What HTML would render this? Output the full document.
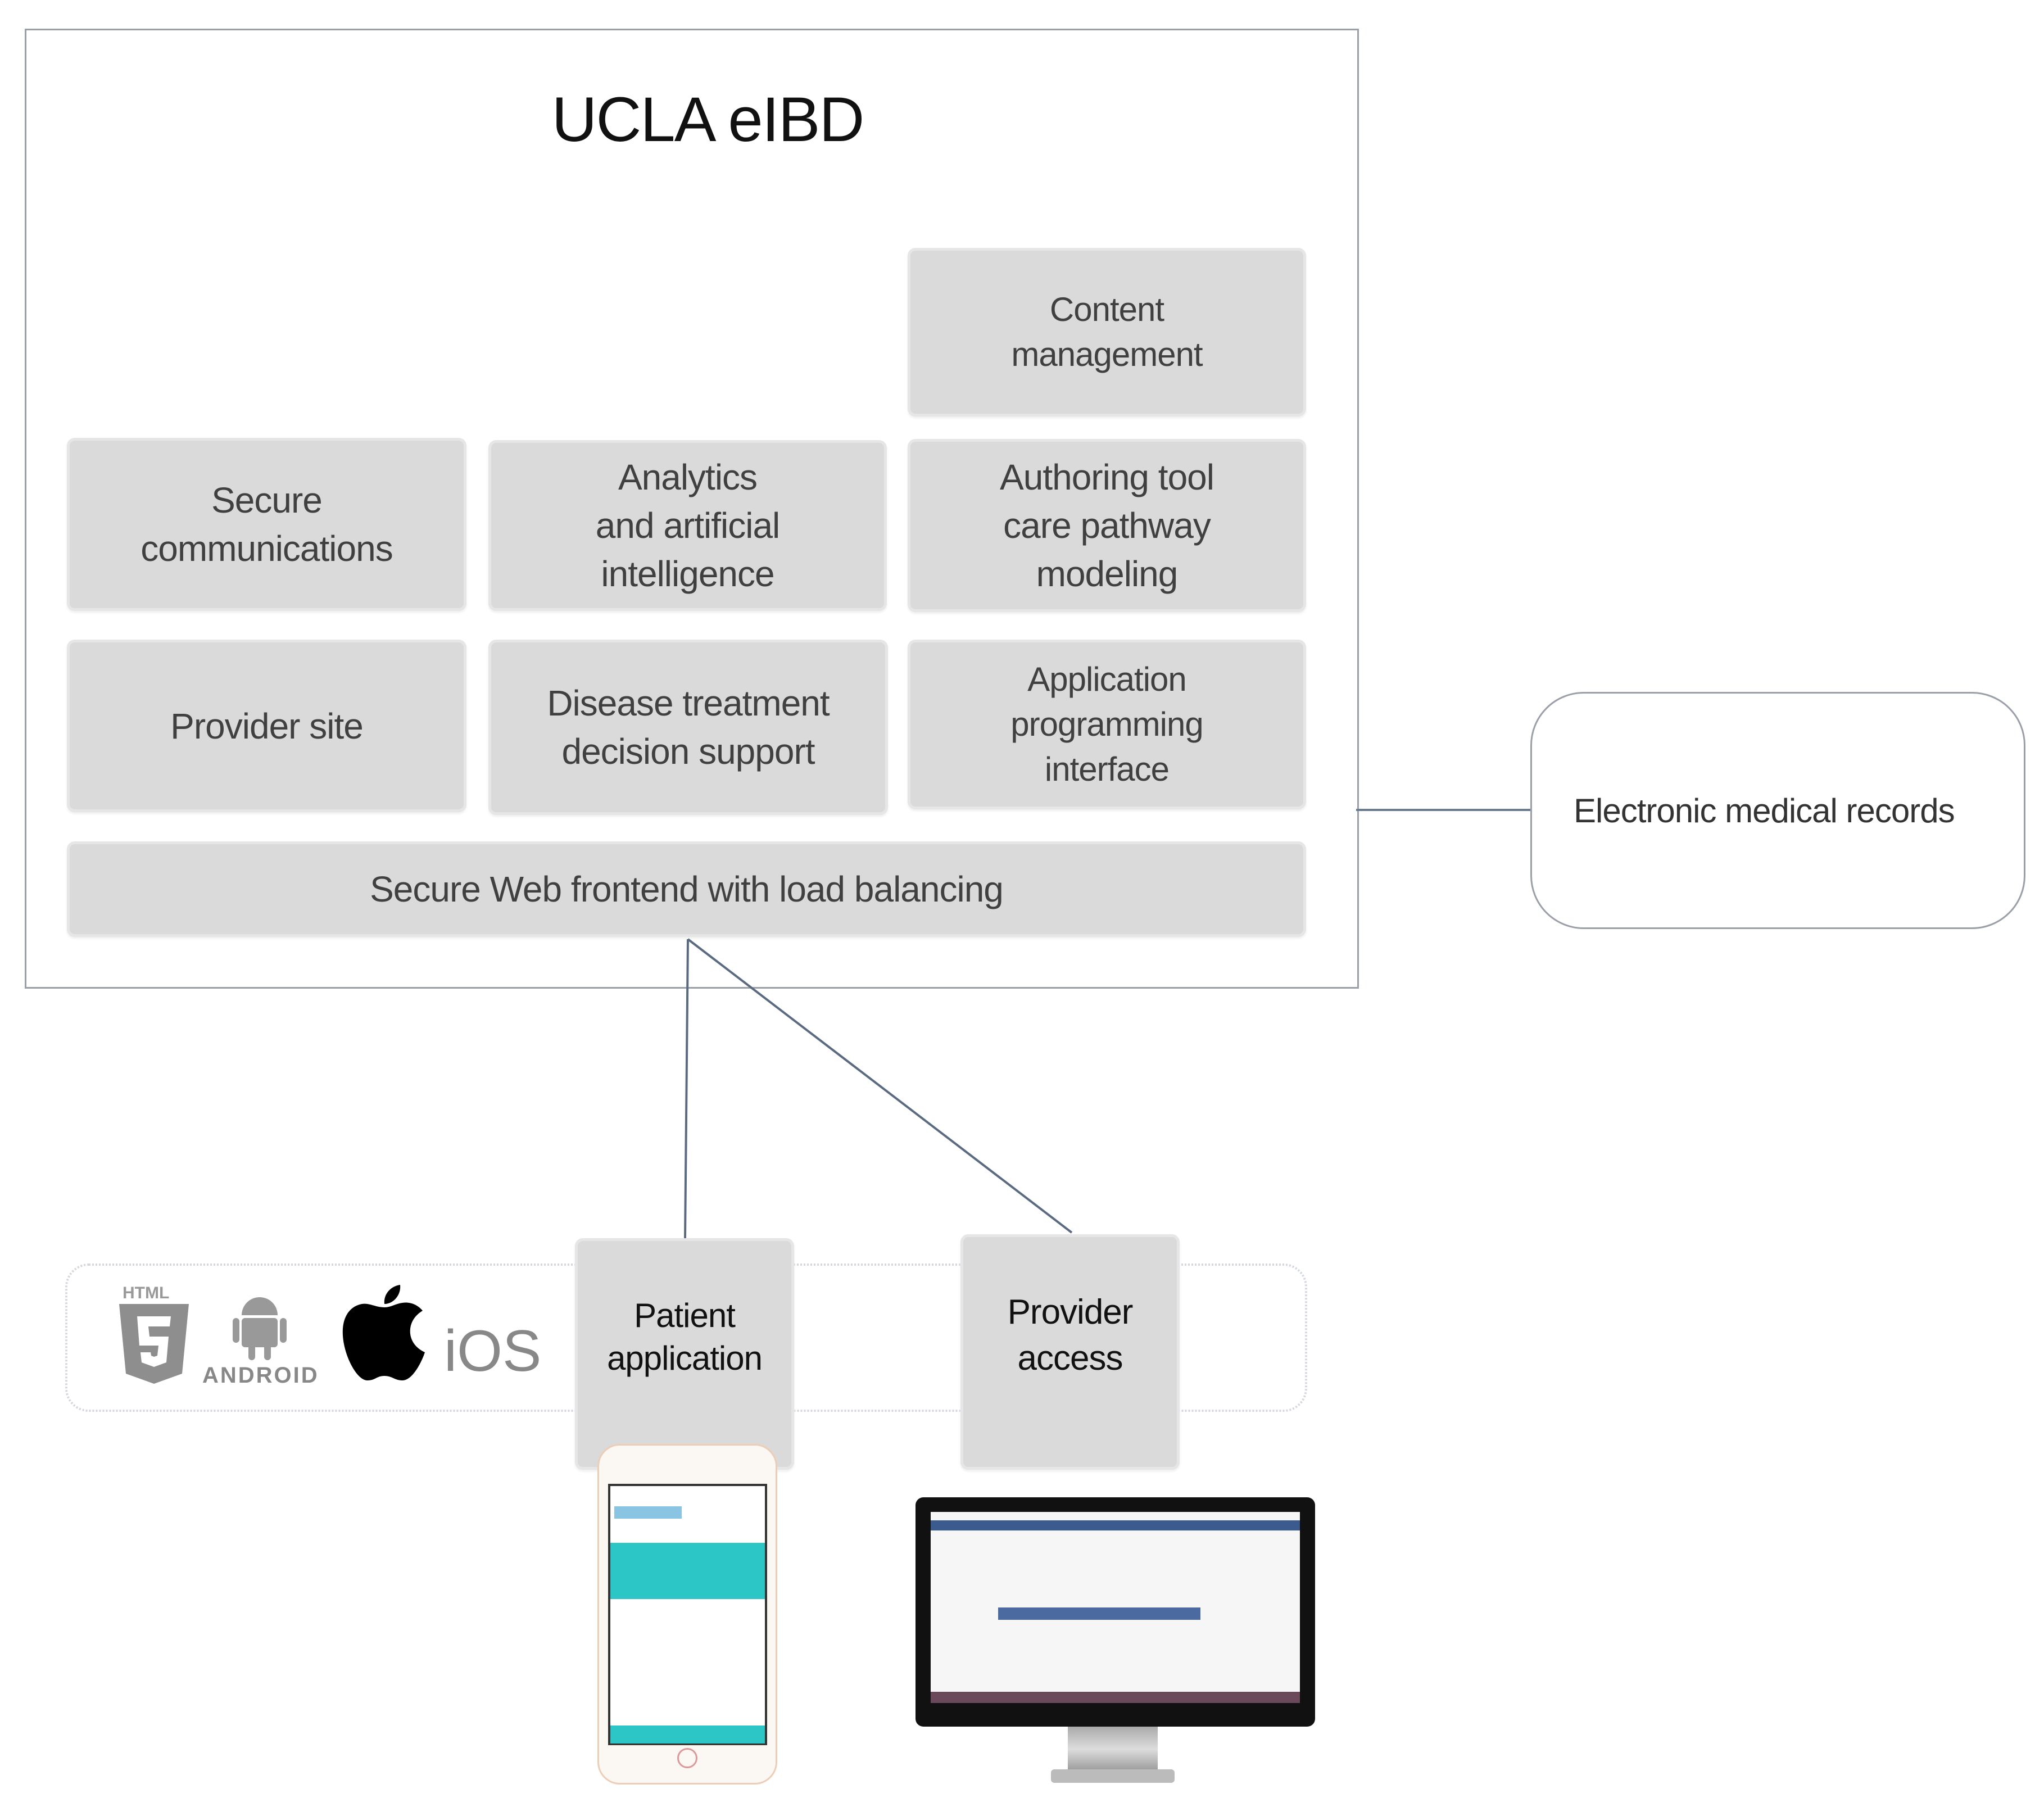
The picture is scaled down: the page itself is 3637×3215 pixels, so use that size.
<!DOCTYPE html>
<html><head><meta charset="utf-8"><style>
html,body{margin:0;padding:0;background:#fff;}
body{width:3637px;height:3215px;position:relative;overflow:hidden;font-family:"Liberation Sans","DejaVu Sans",sans-serif;}
.a{position:absolute;box-sizing:border-box;}
.b{position:absolute;box-sizing:border-box;background:#dadada;border:5px solid #e6e6e6;border-radius:14px;display:flex;align-items:center;justify-content:center;text-align:center;color:#404040;font-size:64px;line-height:86px;box-shadow:0 3px 4px #eee;letter-spacing:-1px;}
</style></head><body>
<div class="a" style="left:44px;top:51px;width:2374px;height:1708px;border:3px solid #9a9fa8;"></div>
<div class="a" style="left:0;top:148px;width:2518px;text-align:center;font-size:112px;color:#111;letter-spacing:-2px;">UCLA eIBD</div>

<div class="b" style="left:1615px;top:441px;width:709px;height:300px;font-size:60px;line-height:80px;">Content<br>management</div>
<div class="b" style="left:119px;top:779px;width:711px;height:308px;">Secure<br>communications</div>
<div class="b" style="left:869px;top:783px;width:709px;height:304px;">Analytics<br>and artificial<br>intelligence</div>
<div class="b" style="left:1615px;top:781px;width:709px;height:308px;">Authoring tool<br>care pathway<br>modeling</div>
<div class="b" style="left:119px;top:1138px;width:711px;height:307px;">Provider site</div>
<div class="b" style="left:869px;top:1138px;width:711px;height:312px;">Disease treatment<br>decision support</div>
<div class="b" style="left:1615px;top:1138px;width:709px;height:302px;font-size:60px;line-height:80px;">Application<br>programming<br>interface</div>
<div class="b" style="left:119px;top:1497px;width:2205px;height:170px;">Secure Web frontend with load balancing</div>

<div class="a" style="left:2723px;top:1231px;width:881px;height:422px;border:3px solid #9a9fa8;border-radius:95px;display:flex;align-items:center;padding-left:74px;font-size:60px;color:#333;letter-spacing:-1px;">Electronic medical records</div>

<svg class="a" style="left:0;top:0" width="3637" height="3215">
<line x1="2413" y1="1441" x2="2723" y2="1441" stroke="#6a7a90" stroke-width="4"/>
<line x1="1224" y1="1671" x2="1219" y2="2205" stroke="#5a6a80" stroke-width="4"/>
<line x1="1224" y1="1671" x2="1907" y2="2193" stroke="#5a6a80" stroke-width="4"/>
<rect x="118" y="2250" width="2206" height="260" rx="40" fill="none" stroke="#d4d8de" stroke-width="4" stroke-dasharray="3 3"/>
</svg>

<div class="b" style="left:1023px;top:2203px;width:390px;height:412px;color:#111;font-size:60px;line-height:76px;padding-bottom:60px;">Patient<br>application</div>
<div class="b" style="left:1709px;top:2196px;width:390px;height:419px;color:#111;font-size:62px;line-height:82px;padding-bottom:60px;">Provider<br>access</div>

<!-- icons -->
<div class="a" style="left:218px;top:2284px;font-size:30px;font-weight:bold;color:#999;">HTML</div>
<svg class="a" style="left:212px;top:2320px" width="124" height="142" viewBox="0 0 124 142">
<path d="M0 0H124L112 124L62 142L12 124Z" fill="#8e8e8e"/>
<path d="M32 22H92L90 40H52L54 58H88L84 104L62 112L40 104L38 86H56L57 92L62 94L68 92L70 74H36Z" fill="#fff"/>
</svg>
<svg class="a" style="left:400px;top:2295px" width="125" height="125" viewBox="0 0 125 125">
<path d="M30 45A32 32 0 0 1 94 45Z" fill="#999"/>
<rect x="30" y="50" width="64" height="52" rx="6" fill="#999"/>
<rect x="14" y="50" width="12" height="44" rx="6" fill="#999"/>
<rect x="98" y="50" width="12" height="44" rx="6" fill="#999"/>
<rect x="42" y="95" width="12" height="30" rx="6" fill="#999"/>
<rect x="70" y="95" width="12" height="30" rx="6" fill="#999"/>
</svg>
<div class="a" style="left:360px;top:2425px;font-size:40px;color:#888;font-weight:bold;letter-spacing:3px;">ANDROID</div>
<svg class="a" style="left:608px;top:2286px" width="152" height="175" viewBox="0 0 152 175">
<path d="M76 40C60 40 50 32 36 34C14 38 0 58 2 90C4 125 26 170 46 170C60 170 62 162 76 162C90 162 94 170 108 170C126 170 142 138 148 120C130 112 120 96 122 78C124 62 134 52 144 46C134 34 120 30 108 32C94 34 88 40 76 40Z" fill="#000"/>
<path d="M76 34C74 16 88 2 104 0C106 18 92 34 76 34Z" fill="#000"/>
</svg>
<div class="a" style="left:790px;top:2345px;font-size:104px;color:#888;font-weight:100;">iOS</div>

<!-- phone -->
<div class="a" style="left:1063px;top:2569px;width:320px;height:606px;background:#fbf7f3;border:3px solid #eccdb5;border-radius:40px;"></div>
<div class="a" style="left:1082px;top:2640px;width:283px;height:465px;background:#fff;border:4px solid #333;"></div>
<div class="a" style="left:1086px;top:2745px;width:275px;height:100px;background:#2cc6c6;"></div>
<div class="a" style="left:1086px;top:3070px;width:275px;height:32px;background:#2cc6c6;"></div>
<div class="a" style="left:1093px;top:2680px;width:120px;height:22px;background:#3a9fd0;opacity:.6"></div>
<div class="a" style="left:1205px;top:3110px;width:36px;height:36px;border:3px solid #d99;border-radius:50%;"></div>

<!-- monitor -->
<div class="a" style="left:1629px;top:2664px;width:711px;height:408px;background:#111;border-radius:14px;"></div>
<div class="a" style="left:1656px;top:2690px;width:657px;height:340px;background:#f6f6f6;"></div>
<div class="a" style="left:1656px;top:2705px;width:657px;height:18px;background:#3b5a8e;"></div>
<div class="a" style="left:1776px;top:2860px;width:360px;height:22px;background:#4a6aa0;"></div>
<div class="a" style="left:1656px;top:3010px;width:657px;height:20px;background:#6a4a5a;"></div>
<div class="a" style="left:1900px;top:3072px;width:160px;height:80px;background:linear-gradient(#aaa,#ddd,#999);"></div>
<div class="a" style="left:1870px;top:3148px;width:220px;height:24px;background:#bbb;border-radius:6px;"></div>
</body></html>
